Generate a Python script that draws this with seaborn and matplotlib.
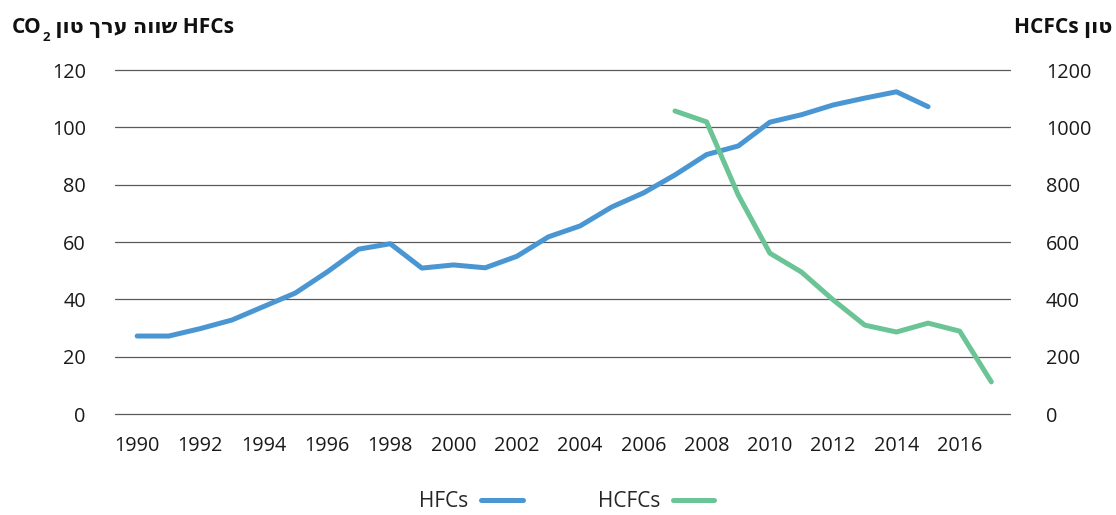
import pandas as pd
import matplotlib
matplotlib.use("Agg")
import matplotlib.pyplot as plt
import seaborn as sns

# values
hfc_years = list(range(1990, 2016))
hfc_values = [27.2, 27.2, 29.8, 32.8, 37.5, 42.2, 49.5, 57.5, 59.4, 50.9,
              52.0, 51.0, 55.0, 61.8, 65.6, 72.2, 77.1, 83.4, 90.5, 93.5,
              101.8, 104.4, 107.8, 110.2, 112.4, 107.2]

hcfc_years = list(range(2007, 2018))
hcfc_values = [1057, 1019, 764, 561, 495, 398, 310, 286, 317, 289, 112]

x_ticks = list(range(1990, 2017, 2))
left_ticks = [0, 20, 40, 60, 80, 100, 120]
right_ticks = [0, 200, 400, 600, 800, 1000, 1200]

hfc_df = pd.DataFrame({"year": hfc_years, "value": hfc_values})
hcfc_df = pd.DataFrame({"year": hcfc_years, "value": hcfc_values})

blue = "#4A96D3"
green = "#6BC495"

sns.set_theme(style="white")
plt.rcParams["font.family"] = ["Open Sans", "DejaVu Sans"]

fig = plt.figure(figsize=(11.16, 5.15), dpi=100)
ax = fig.add_axes([115 / 1116, 1 - 414 / 515, 895 / 1116, 344 / 515])
ax2 = ax.twinx()

for y in left_ticks:
    ax.axhline(y, color="#5a5a5a", lw=0.9, zorder=0, clip_on=False)

sns.lineplot(data=hfc_df, x="year", y="value", ax=ax, color=blue,
             lw=3.6, solid_capstyle="round", label="HFCs", legend=False)
sns.lineplot(data=hcfc_df, x="year", y="value", ax=ax2, color=green,
             lw=3.6, solid_capstyle="round", label="HCFCs", legend=False)

ax.set_xlim(1989.30, 2017.59)
ax.set_ylim(0, 120)
ax2.set_ylim(0, 1200)
ax.set_xticks(x_ticks)
ax.set_yticks(left_ticks)
ax2.set_yticks(right_ticks)
ax.set_xlabel("")
ax.set_ylabel("")
ax2.set_ylabel("")

ax.tick_params(axis="x", length=0, pad=16, labelsize=14.3, colors="#1a1a1a")
ax.tick_params(axis="y", length=0, pad=21, labelsize=14.3, colors="#1a1a1a")
ax2.tick_params(axis="y", length=0, pad=26, labelsize=14.3, colors="#1a1a1a")

for a in (ax, ax2):
    for s in a.spines.values():
        s.set_visible(False)

# left title: "CO" + lowered "2" + Hebrew in visual order (matplotlib has no bidi)
renderer = fig.canvas.get_renderer()
base_y = 1 - 33 / 515
t_co = fig.text(12 / 1116, base_y, "CO", fontsize=15, fontweight="bold",
                ha="left", va="baseline", color="#111111")
x_next = t_co.get_window_extent(renderer).x1 / 1116 + 1 / 1116
t_sub = fig.text(x_next, base_y - 8 / 515, "2", fontsize=9.5, fontweight="bold",
                 ha="left", va="baseline", color="#111111")
x_next = t_sub.get_window_extent(renderer).x1 / 1116
fig.text(x_next, base_y, " \u05df\u05d5\u05d8 \u05da\u05e8\u05e2 \u05d4\u05d5\u05d5\u05e9 HFCs",
         fontsize=15, fontweight="bold", ha="left", va="baseline", color="#111111")
fig.text(1112 / 1116, base_y, "HCFCs \u05df\u05d5\u05d8",
         fontsize=15, fontweight="bold", ha="right", va="baseline", color="#111111")

h1, l1 = ax.get_legend_handles_labels()
h2, l2 = ax2.get_legend_handles_labels()
fig.legend(h1 + h2, l1 + l2, loc="center", bbox_to_anchor=(0.508, 0.026),
           ncol=2, frameon=False, markerfirst=False, fontsize=15,
           handlelength=2.0, handletextpad=0.6, columnspacing=3.6)

fig.savefig("out.png", dpi=100)
